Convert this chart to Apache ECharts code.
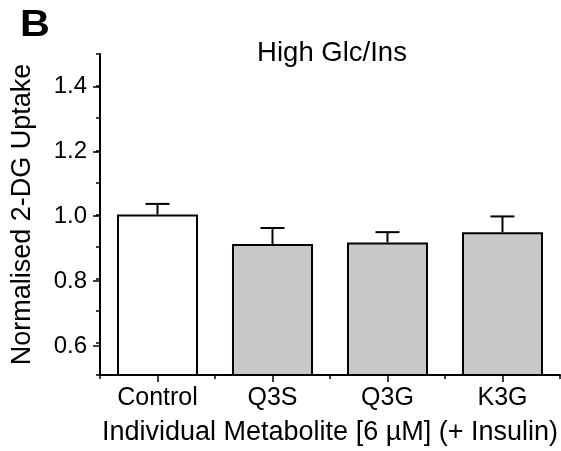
<!DOCTYPE html>
<html>
<head>
<meta charset="utf-8">
<script src="https://cdn.jsdelivr.net/npm/echarts@6/dist/echarts.min.js"></script>
<style>
  html, body { margin: 0; padding: 0; background: #fff; }
  #chart { width: 561px; height: 451px; }
</style>
</head>
<body>
<div id="chart"></div>
<script>
// ---- data ----
const categories = ['Control', 'Q3S', 'Q3G', 'K3G'];
const means = [1.0, 0.908, 0.913, 0.945];
const sems = [0.033, 0.050, 0.032, 0.049];
const yTickLabels = [0.6, 0.8, 1.0, 1.2, 1.4];

const FONT = 'Liberation Sans, Arial, sans-serif';
const chart = echarts.init(document.getElementById('chart'), null, { renderer: 'canvas' });

const barData = means.map((v, i) => ({
  value: v,
  itemStyle: { color: i === 0 ? '#ffffff' : '#c8c8c8' }
}));
const errData = means.map((v, i) => [i, v, v + sems[i]]);

const option = {
  animation: false,
  backgroundColor: '#ffffff',
  graphic: [
    { type: 'text', x: 20, y: 26, scaleX: 1.12, style: { text: 'B', font: 'bold 37px ' + FONT, fill: '#000', align: 'left', verticalAlign: 'middle' } },
    { type: 'text', x: 332, y: 53, style: { text: 'High Glc/Ins', font: '27.5px ' + FONT, fill: '#000', align: 'center', verticalAlign: 'middle' } }
  ],
  grid: [
    { left: 100, right: -4, top: 54, bottom: 73 },
    { left: 100, right: -4, top: 86.4, bottom: 105 }
  ],
  xAxis: [
    {
      type: 'category', gridIndex: 0, data: categories, position: 'bottom',
      axisLine: { show: true, lineStyle: { color: '#000', width: 2 } },
      axisTick: { show: true, alignWithLabel: true, length: 7, lineStyle: { color: '#000', width: 1.5 } },
      axisLabel: { color: '#000', fontSize: 25, fontFamily: FONT, margin: 11 },
      name: 'Individual Metabolite [6 µM] (+ Insulin)', nameLocation: 'middle', nameGap: 44,
      nameTextStyle: { color: '#000', fontSize: 27, fontFamily: FONT }
    },
    {
      type: 'category', gridIndex: 0, data: categories, position: 'bottom',
      axisLine: { show: false },
      axisTick: { show: true, alignWithLabel: false, length: 4, lineStyle: { color: '#000', width: 1.5 } },
      axisLabel: { show: false }
    },
    { type: 'category', gridIndex: 1, data: categories, show: false }
  ],
  yAxis: [
    {
      type: 'value', gridIndex: 0, min: 0.5, max: 1.5, interval: 0.1,
      axisLine: { show: true, lineStyle: { color: '#000', width: 2 } },
      axisTick: { show: true, length: 4, lineStyle: { color: '#000', width: 1.5 } },
      axisLabel: { show: false },
      splitLine: { show: false },
      name: 'Normalised 2-DG Uptake', nameLocation: 'middle', nameGap: 64,
      nameTextStyle: { color: '#000', fontSize: 27, fontFamily: FONT }
    },
    {
      type: 'value', gridIndex: 1, min: yTickLabels[0], max: yTickLabels[yTickLabels.length - 1], interval: 0.2,
      axisLine: { show: false },
      axisTick: { show: true, length: 7, lineStyle: { color: '#000', width: 1.5 } },
      axisLabel: { color: '#000', fontSize: 24, fontFamily: FONT, margin: 13, formatter: v => v.toFixed(1) },
      splitLine: { show: false }
    }
  ],
  series: [
    {
      type: 'bar', xAxisIndex: 0, yAxisIndex: 0, data: barData, barWidth: 81,
      itemStyle: { borderColor: '#000', borderWidth: 2 }
    },
    {
      type: 'custom', xAxisIndex: 0, yAxisIndex: 0, data: errData, z: 3,
      renderItem: function (params, api) {
        const top = api.coord([api.value(0), api.value(2)]);
        const base = api.coord([api.value(0), api.value(1)]);
        const half = 12;
        const st = { stroke: '#000', lineWidth: 2 };
        return {
          type: 'group',
          children: [
            { type: 'line', shape: { x1: top[0], y1: base[1], x2: top[0], y2: top[1] }, style: st },
            { type: 'line', shape: { x1: top[0] - half, y1: top[1], x2: top[0] + half, y2: top[1] }, style: st }
          ]
        };
      }
    }
  ]
};
chart.setOption(option);
</script>
</body>
</html>
